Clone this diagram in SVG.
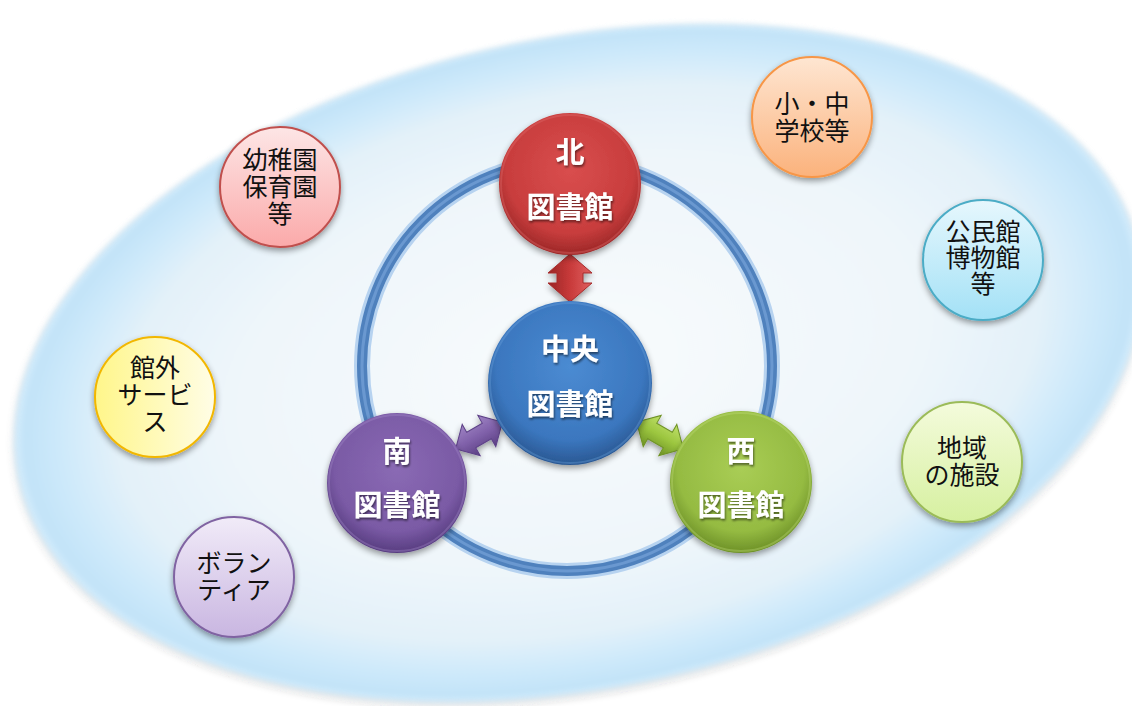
<svg xmlns="http://www.w3.org/2000/svg" width="1132" height="706" viewBox="0 0 1132 706">
<defs>
<style>
.lbl{font-family:"Noto Sans CJK JP","Noto Sans",sans-serif;font-size:25px;fill:#111;text-anchor:middle}
.big{font-family:"Noto Sans CJK JP","Noto Sans",sans-serif;font-size:29px;font-weight:bold;fill:#fff;text-anchor:middle}
.ring{fill:none}
</style>
<radialGradient id="gEll" cx="50%" cy="50%" r="50%">
<stop offset="0" stop-color="#f8fbfd"/>
<stop offset="0.6" stop-color="#eff6fa"/>
<stop offset="0.82" stop-color="#e3f1f9"/>
<stop offset="0.92" stop-color="#cde9fa"/>
<stop offset="0.98" stop-color="#c2e3f8"/>
<stop offset="1" stop-color="#d6edfb"/>
</radialGradient>
<filter id="fEll" x="-5%" y="-5%" width="110%" height="112%">
<feGaussianBlur in="SourceAlpha" stdDeviation="3"/>
<feOffset dy="3"/>
<feComponentTransfer><feFuncA type="linear" slope="0.25"/></feComponentTransfer>
<feMerge><feMergeNode/><feMergeNode in="SourceGraphic"/></feMerge>
</filter>
<filter id="fSoft" x="-5%" y="-5%" width="110%" height="110%">
<feGaussianBlur stdDeviation="2.5"/>
</filter>
<filter id="sh" x="-25%" y="-25%" width="150%" height="160%">
<feGaussianBlur in="SourceAlpha" stdDeviation="3"/>
<feOffset dy="3" result="o"/>
<feComponentTransfer><feFuncA type="linear" slope="0.4"/></feComponentTransfer>
<feMerge><feMergeNode/><feMergeNode in="SourceGraphic"/></feMerge>
</filter>
<filter id="tsh" x="-10%" y="-20%" width="120%" height="140%">
<feGaussianBlur in="SourceAlpha" stdDeviation="1"/>
<feOffset dx="1" dy="1.5"/>
<feComponentTransfer><feFuncA type="linear" slope="0.5"/></feComponentTransfer>
<feMerge><feMergeNode/><feMergeNode in="SourceGraphic"/></feMerge>
</filter>
<radialGradient id="gRed" cx="50%" cy="40%" r="62%">
<stop offset="0" stop-color="#d94e4e"/>
<stop offset="0.72" stop-color="#c83d3d"/>
<stop offset="1" stop-color="#962424"/>
</radialGradient>
<radialGradient id="gBlue" cx="50%" cy="40%" r="62%">
<stop offset="0" stop-color="#4b8bd2"/>
<stop offset="0.72" stop-color="#3b77bf"/>
<stop offset="1" stop-color="#27538c"/>
</radialGradient>
<radialGradient id="gPur" cx="50%" cy="40%" r="62%">
<stop offset="0" stop-color="#8a6ab4"/>
<stop offset="0.72" stop-color="#7a5aa5"/>
<stop offset="1" stop-color="#52387a"/>
</radialGradient>
<radialGradient id="gGrn" cx="50%" cy="40%" r="62%">
<stop offset="0" stop-color="#a9cd55"/>
<stop offset="0.72" stop-color="#95bb42"/>
<stop offset="1" stop-color="#678a23"/>
</radialGradient>
<linearGradient id="gPink" x1="0" y1="0" x2="0" y2="1">
<stop offset="0" stop-color="#fde6e6"/><stop offset="1" stop-color="#fbaaaa"/>
</linearGradient>
<linearGradient id="gOra" x1="0" y1="0" x2="0" y2="1">
<stop offset="0" stop-color="#fee6d2"/><stop offset="1" stop-color="#fbb27c"/>
</linearGradient>
<linearGradient id="gCyan" x1="0" y1="0" x2="0" y2="1">
<stop offset="0" stop-color="#e6f7fd"/><stop offset="1" stop-color="#a3e1f6"/>
</linearGradient>
<linearGradient id="gLg" x1="0" y1="0" x2="0" y2="1">
<stop offset="0" stop-color="#f4fbdc"/><stop offset="1" stop-color="#d6f0a0"/>
</linearGradient>
<linearGradient id="gYel" x1="0" y1="0" x2="1" y2="0">
<stop offset="0" stop-color="#fff68a"/><stop offset="1" stop-color="#fffde6"/>
</linearGradient>
<linearGradient id="gLav" x1="0" y1="0" x2="0" y2="1">
<stop offset="0" stop-color="#f1ebf8"/><stop offset="1" stop-color="#c9b6e1"/>
</linearGradient>
<linearGradient id="aRed" x1="0" y1="0" x2="0" y2="1">
<stop offset="0" stop-color="#e06060"/><stop offset="0.5" stop-color="#c83a3a"/><stop offset="1" stop-color="#9a2424"/>
</linearGradient>
<linearGradient id="aPur" x1="0" y1="0" x2="0" y2="1">
<stop offset="0" stop-color="#9f84c4"/><stop offset="0.5" stop-color="#8061aa"/><stop offset="1" stop-color="#5a3e82"/>
</linearGradient>
<linearGradient id="aGrn" x1="0" y1="0" x2="0" y2="1">
<stop offset="0" stop-color="#bfe06a"/><stop offset="0.5" stop-color="#9cc63f"/><stop offset="1" stop-color="#6c9024"/>
</linearGradient>
<path id="dbl" d="M-24,0 L-5,-22 L-5,-13 L5,-13 L5,-22 L24,0 L5,22 L5,13 L-5,13 L-5,22 Z"/>
<path id="dbl2" d="M-27,0 L-9,-18 L-9,-9 L9,-9 L9,-18 L27,0 L9,18 L9,9 L-9,9 L-9,18 Z"/>
</defs>

<rect width="1132" height="706" fill="#ffffff"/>

<g id="background">
<g filter="url(#fEll)">
<ellipse cx="578" cy="363" rx="572" ry="326" transform="rotate(-11.6 578 363)" fill="url(#gEll)" filter="url(#fSoft)"/>
</g>
<circle class="ring" cx="567" cy="366" r="205" stroke="#b7d3f0" stroke-width="16"/>
<circle class="ring" cx="567" cy="366" r="205" stroke="#4f81bd" stroke-width="10"/>
<circle class="ring" cx="567" cy="366" r="205" stroke="#6a98d0" stroke-width="3"/>
</g>

<g id="connectors">
<g filter="url(#sh)">
<use href="#dbl" transform="translate(570 278) rotate(90)" fill="url(#aRed)" stroke="#a52a2a" stroke-width="1"/>
<use href="#dbl2" transform="translate(479 435.5) rotate(-30)" fill="url(#aPur)" stroke="#5e4288" stroke-width="1"/>
<use href="#dbl2" transform="translate(660 435.5) rotate(30)" fill="url(#aGrn)" stroke="#6f9326" stroke-width="1"/>
</g>
</g>

<g id="north">
<circle cx="570" cy="184" r="71" fill="url(#gRed)" filter="url(#sh)"/>
<circle cx="570" cy="184" r="69" fill="none" stroke="#e27070" stroke-opacity="0.35" stroke-width="2"/>
<g filter="url(#tsh)">
<text class="big" x="570" y="163">北</text>
<text class="big" x="570" y="218">図書館</text>
</g>
</g>

<g id="center">
<circle cx="570" cy="383" r="82" fill="url(#gBlue)" filter="url(#sh)"/>
<circle cx="570" cy="383" r="80" fill="none" stroke="#6ea3de" stroke-opacity="0.35" stroke-width="2"/>
<g filter="url(#tsh)">
<text class="big" x="570" y="360">中央</text>
<text class="big" x="570" y="415">図書館</text>
</g>
</g>

<g id="south">
<circle cx="397" cy="483" r="70" fill="url(#gPur)" filter="url(#sh)"/>
<circle cx="397" cy="483" r="68" fill="none" stroke="#a68ccb" stroke-opacity="0.35" stroke-width="2"/>
<g filter="url(#tsh)">
<text class="big" x="397" y="462">南</text>
<text class="big" x="397" y="516">図書館</text>
</g>
</g>

<g id="west">
<circle cx="741" cy="482" r="71" fill="url(#gGrn)" filter="url(#sh)"/>
<circle cx="741" cy="482" r="69" fill="none" stroke="#c2e07a" stroke-opacity="0.35" stroke-width="2"/>
<g filter="url(#tsh)">
<text class="big" x="741" y="462">西</text>
<text class="big" x="741" y="516">図書館</text>
</g>
</g>

<g id="kindergarten">
<circle cx="280" cy="187" r="60" fill="url(#gPink)" stroke="#c0504d" stroke-width="2" filter="url(#sh)"/>
<text class="lbl" x="280" y="169">幼稚園<tspan x="280" dy="27">保育園</tspan><tspan x="280" dy="27">等</tspan></text>
</g>

<g id="school">
<circle cx="812" cy="117" r="60" fill="url(#gOra)" stroke="#f79646" stroke-width="2" filter="url(#sh)"/>
<text class="lbl" x="812" y="113">小・中<tspan x="812" dy="27">学校等</tspan></text>
</g>

<g id="museum">
<circle cx="983" cy="260" r="60" fill="url(#gCyan)" stroke="#4bacc6" stroke-width="2" filter="url(#sh)"/>
<text class="lbl" x="983" y="241">公民館<tspan x="983" dy="26">博物館</tspan><tspan x="983" dy="26">等</tspan></text>
</g>

<g id="local">
<circle cx="962" cy="462" r="60" fill="url(#gLg)" stroke="#9bbb59" stroke-width="2" filter="url(#sh)"/>
<text class="lbl" x="962" y="457">地域<tspan x="962" dy="27">の施設</tspan></text>
</g>

<g id="outreach">
<circle cx="155" cy="397" r="60" fill="url(#gYel)" stroke="#f2b705" stroke-width="2" filter="url(#sh)"/>
<text class="lbl" x="155" y="377">館外<tspan x="155" dy="27">サービ</tspan><tspan x="155" dy="27">ス</tspan></text>
</g>

<g id="volunteer">
<circle cx="234" cy="577" r="60" fill="url(#gLav)" stroke="#8064a2" stroke-width="2" filter="url(#sh)"/>
<text class="lbl" x="234" y="572">ボラン<tspan x="234" dy="27">ティア</tspan></text>
</g>
</svg>
